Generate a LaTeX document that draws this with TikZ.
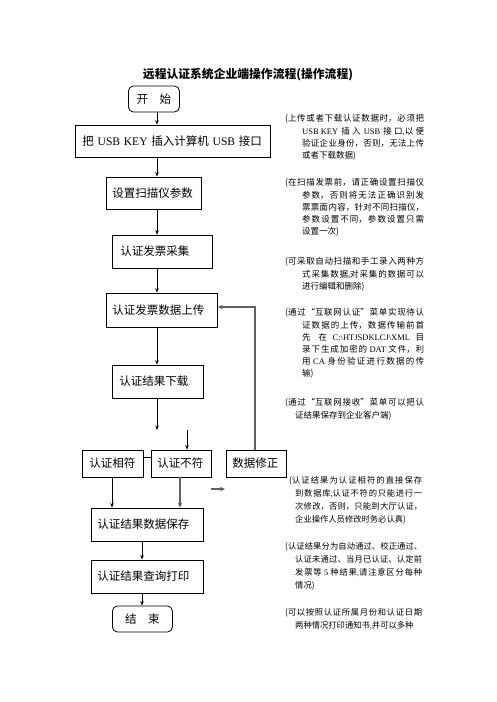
\documentclass[tikz,border=0pt]{standalone}
\usepackage{fontspec}
\setmainfont{Noto Sans CJK SC}
\newfontfamily\lat{Liberation Serif}
\usetikzlibrary{arrows.meta,calc}
\XeTeXlinebreaklocale "zh"
\XeTeXlinebreakskip=0pt plus 2pt
\newcommand\hangnote[3]{\leftskip=#1\relax\noindent\hskip-#2\relax #3\par}
\newcommand\lt[1]{{\lat\mbox{#1}}}
\begin{document}
\begin{tikzpicture}[x=1pt,y=-1pt,
  box/.style={draw, line width=0.8pt, inner xsep=7pt, inner ysep=0pt, align=left,
    font=\fontsize{11.5}{14}\selectfont, anchor=west},
  rbox/.style={box, rounded corners=5pt, align=center},
  arr/.style={-{Stealth[length=4.5pt,width=3.6pt]}, line width=0.7pt},
  garr/.style={-{Stealth[length=5pt,width=4.4pt]}, line width=1.8pt, draw=black!62, color=black!62},
  link/.style={line width=0.7pt},
  unote/.style={anchor=north west, inner sep=0pt, text width=139pt, align=justify,
    font=\fontsize{8.5}{12.2}\selectfont},
  lnote/.style={anchor=north west, inner sep=0pt, text width=137pt, align=justify,
    font=\fontsize{8.3}{13}\selectfont},
  title/.style={font=\fontsize{11.8}{14}\selectfont\bfseries}
]
\useasboundingbox (0,0) rectangle (496,702);
\fill[white] (0,0) rectangle (496,702);

\node[title] (ttl) at (248,75) {远程认证系统企业端操作流程(操作流程)};

% boxes
\node[rbox, text width=37pt, minimum height=26pt] (start) at (128,99) {\mbox{开\hspace{1em}始}};
\node[box, text width=181pt, minimum height=32pt] (usb) at (75,141) {\mbox{把 {\lat USB KEY} 插入计算机 {\lat USB} 接口}};
\node[box, text width=83pt, minimum height=32pt, inner xsep=6pt] (setup) at (106,193) {\mbox{设置扫描仪参数}};
\node[box, text width=84pt, minimum height=33pt, inner xsep=8pt] (collect) at (112,251.5) {\mbox{认证发票采集}};
\node[box, text width=99pt, minimum height=34pt, inner xsep=6pt] (upload) at (106,310) {\mbox{认证发票数据上传}};
\node[box, text width=77pt, minimum height=33pt] (download) at (112,381.5) {\mbox{认证结果下载}};
\node[box, text width=47pt, minimum height=27pt] (match) at (82,463.5) {\mbox{认证相符}};
\node[box, text width=48pt, minimum height=27pt, inner xsep=6pt] (mismatch) at (151,463.5) {\mbox{认证不符}};
\node[box, text width=48pt, minimum height=27pt, inner xsep=6pt] (fix) at (226,463.5) {\mbox{数据修正}};
\node[box, text width=100pt, minimum height=33pt, inner xsep=6pt] (save) at (91,524.5) {\mbox{认证结果数据保存}};
\node[box, text width=100pt, minimum height=33pt, inner xsep=6pt] (query) at (91,576.5) {\mbox{认证结果查询打印}};
\node[rbox, text width=46pt, minimum height=26pt] (end) at (112,619) {\mbox{结\hspace{1em}束}};

% helper coordinates
\coordinate (s1) at (157,0);
\coordinate (s2) at (142,0);
\coordinate (s3) at (112,0);
\coordinate (s4) at (180,0);
\coordinate (s5) at (255,0);
\coordinate (fb) at (0,307);
\coordinate (lk) at (0,457);
\coordinate (dlend) at (157,430);
\coordinate (mmstart) at (187,430);
\coordinate (ra1) at (211,489);
\coordinate (ra2) at (225,489);

% connectors
\draw[arr] (start.south -| s1) -- (usb.north -| s1);
\draw[arr] (usb.south -| s1) -- (setup.north -| s1);
\draw[arr] (setup.south -| s1) -- (collect.north -| s1);
\draw[arr] (collect.south -| s1) -- (upload.north -| s1);
\draw[arr] (upload.south -| s1) -- (download.north -| s1);
\draw[arr] (download.south -| s1) -- (dlend);
\draw[arr] (mmstart) -- (mismatch.north -| mmstart);
\draw[link] (match.east |- lk) -- (mismatch.west |- lk);
\draw[garr] (fix.north -| s5) |- (upload.east |- fb);
\draw[arr] (match.south -| s3) -- (save.north -| s3);
\draw[garr] (mismatch.south -| s4) -- (save.north -| s4);
\draw[garr] (ra1) -- (ra2);
\draw[arr] (save.south -| s2) -- (query.north -| s2);
\draw[arr] (query.south -| s2) -- (end.north -| s2);

% notes
\node[unote] (n1) at (285,114.5) {\hangnote{17pt}{17pt}{(上传或者下载认证数据时，必须把\linebreak \lt{USB KEY} 插入 \lt{USB} 接口\lt{,}以便\linebreak 验证企业身份，否则，无法上传\linebreak 或者下载数据)}};
\node[unote] (n2) at (285,178.5) {\hangnote{17pt}{17pt}{(在扫描发票前，请正确设置扫描仪\linebreak 参数，否则将无法正确识别发\linebreak 票票面内容，针对不同扫描仪，\linebreak 参数设置不同，参数设置只需\linebreak 设置一次)}};
\node[unote] (n3) at (285,257.5) {\hangnote{17pt}{17pt}{(可采取自动扫描和手工录入两种方\linebreak 式采集数据\lt{,}对采集的数据可以\linebreak 进行编辑和删除)}};
\node[unote] (n4) at (285,308.5) {\hangnote{17pt}{17pt}{(通过“互联网认证”菜单实现待认\linebreak 证数据的上传，数据传输前首\linebreak 先在 \lt{C:\textbackslash HTJSDKLCJ\textbackslash XML} 目\linebreak 录下生成加密的 \lt{DAT} 文件，利\linebreak 用 \lt{CA} 身份验证进行数据的传\linebreak 输)}};
\node[unote] (n5) at (285,398.5) {\hangnote{10pt}{10pt}{(通过“互联网接收”菜单可以把认\linebreak 证结果保存到企业客户端)}};
\node[lnote] (n6) at (285,476.5) {\hangnote{10pt}{6pt}{(认证结果为认证相符的直接保存\linebreak 到数据库\lt{,}认证不符的只能进行一\linebreak 次修改，否则，只能到大厅认证，\linebreak 企业操作人员修改时务必认真)}};
\node[lnote] (n7) at (285,542.5) {\hangnote{10pt}{10pt}{(认证结果分为自动通过、校正通过、\linebreak 认证未通过、当月已认证、认定前\linebreak 发票等 \lt{5} 种结果\lt{,}请注意区分每种\linebreak 情况)}};
\node[lnote] (n8) at (285,608.5) {\hangnote{10pt}{10pt}{(可以按照认证所属月份和认证日期\linebreak 两种情况打印通知书\lt{,}并可以多种}};
\end{tikzpicture}
\end{document}
